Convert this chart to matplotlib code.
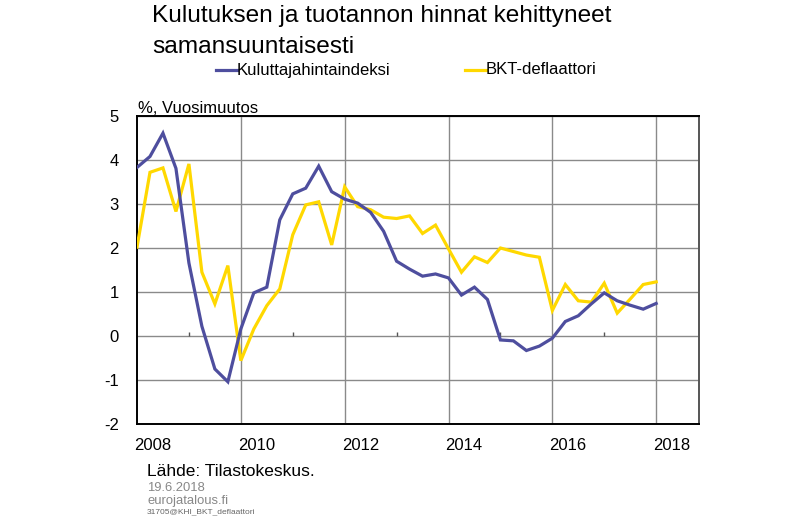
import matplotlib
matplotlib.use("Agg")
import matplotlib.pyplot as plt
import matplotlib.transforms as mtrans
import numpy as np

plt.rcParams['font.family'] = ['Liberation Sans', 'DejaVu Sans']
plt.rcParams['axes.unicode_minus'] = False

# Quarterly data 2008Q1 .. 2018Q1
start_year = 2008
kuluttajahintaindeksi = [3.83, 4.08, 4.61, 3.81, 1.66, 0.22, -0.75, -1.04, 0.16, 0.98,
                         1.11, 2.64, 3.23, 3.36, 3.86, 3.28, 3.11, 3.02, 2.81, 2.38,
                         1.70, 1.52, 1.36, 1.41, 1.32, 0.93, 1.11, 0.83, -0.09, -0.11,
                         -0.33, -0.23, -0.05, 0.33, 0.46, 0.73, 0.98, 0.80, 0.70, 0.61,
                         0.74]
bkt_deflaattori = [2.02, 3.72, 3.82, 2.83, 3.91, 1.45, 0.73, 1.60, -0.56, 0.16,
                   0.69, 1.07, 2.30, 2.98, 3.05, 2.07, 3.39, 2.94, 2.87, 2.70,
                   2.67, 2.73, 2.33, 2.52, 1.98, 1.45, 1.80, 1.67, 2.00, 1.92,
                   1.84, 1.79, 0.58, 1.17, 0.80, 0.77, 1.20, 0.52, 0.84, 1.17,
                   1.23]
series_names = ["Kuluttajahintaindeksi", "BKT-deflaattori"]
year_labels = [2008, 2010, 2012, 2014, 2016, 2018]
y_ticks = [-2, -1, 0, 1, 2, 3, 4, 5]

title_lines = ["Kulutuksen ja tuotannon hinnat kehittyneet", "samansuuntaisesti"]
unit_label = "%, Vuosimuutos"
source = "Lähde: Tilastokeskus."
date_txt = "19.6.2018"
site_txt = "eurojatalous.fi"
code_txt = "31705@KHI_BKT_deflaattori"

blue = "#4E4E9E"
yellow = "#FFD800"

W, H = 800, 523
fig = plt.figure(figsize=(W / 100, H / 100), dpi=100)
ax = fig.add_axes([137 / W, (H - 424) / H, (699 - 137) / W, (424 - 116) / H])

t = start_year + np.arange(len(kuluttajahintaindeksi)) / 4.0
ax.plot(t, kuluttajahintaindeksi, color=blue, lw=2.3, solid_joinstyle='miter', zorder=4)
ax.plot(t, bkt_deflaattori, color=yellow, lw=2.3, solid_joinstyle='miter', zorder=3)

ax.set_xlim(start_year, start_year + 43.3 / 4)
ax.set_ylim(-2, 5)
ax.set_yticks(y_ticks)
ax.set_xticks(year_labels[1:])
ax.tick_params(axis='both', length=0, labelsize=12, pad=13)
ax.set_xticklabels([])
ax.grid(True, color='#8a8a8a', lw=1.0)
ax.set_axisbelow(True)
for s in ax.spines.values():
    s.set_linewidth(1.4)
    s.set_color('black')
ax.spines['right'].set_color('#555555')

# small category ticks on zero line
odd_years = [y + 1 for y in year_labels[:-1]]
ax.plot(odd_years, [0] * len(odd_years), ls='none', marker=2, ms=3, mew=1,
        color='#555555', zorder=2)

# year labels left-aligned near gridlines
trans = mtrans.blended_transform_factory(ax.transData, ax.transAxes)
off = mtrans.ScaledTranslation(-3 / 100, 0, fig.dpi_scale_trans)
for yv in year_labels:
    ax.text(yv, -0.045, str(yv), transform=trans + off, ha='left', va='top', fontsize=12)

fig.text(152 / W, 1 - 22 / H, title_lines[0], fontsize=17.6, va='baseline', ha='left')
fig.text(152 / W, 1 - 53 / H, title_lines[1], fontsize=17.6, va='baseline', ha='left')

# legend
def leg(x0, y, col, name):
    fig.add_artist(plt.Line2D([x0 / W, (x0 + 21) / W], [1 - y / H, 1 - y / H],
                              color=col, lw=2.3, transform=fig.transFigure))
    fig.text((x0 + 21) / W, 1 - y / H, name, fontsize=12, va='center', ha='left')

leg(216, 70, blue, series_names[0])
leg(465, 70, yellow, series_names[1])

fig.text(138 / W, 1 - 113 / H, unit_label, fontsize=12, va='baseline', ha='left')
fig.text(147 / W, 1 - 472 / H, source, fontsize=12.5, va='center', ha='left')
fig.text(147 / W, 1 - 488 / H, date_txt, fontsize=9.4, va='center', ha='left', color='#888888')
fig.text(147 / W, 1 - 501 / H, site_txt, fontsize=9.4, va='center', ha='left', color='#888888')
fig.text(147 / W, 1 - 512 / H, code_txt, fontsize=6, va='center', ha='left', color='#666666')

fig.savefig("out.png", dpi=100)
